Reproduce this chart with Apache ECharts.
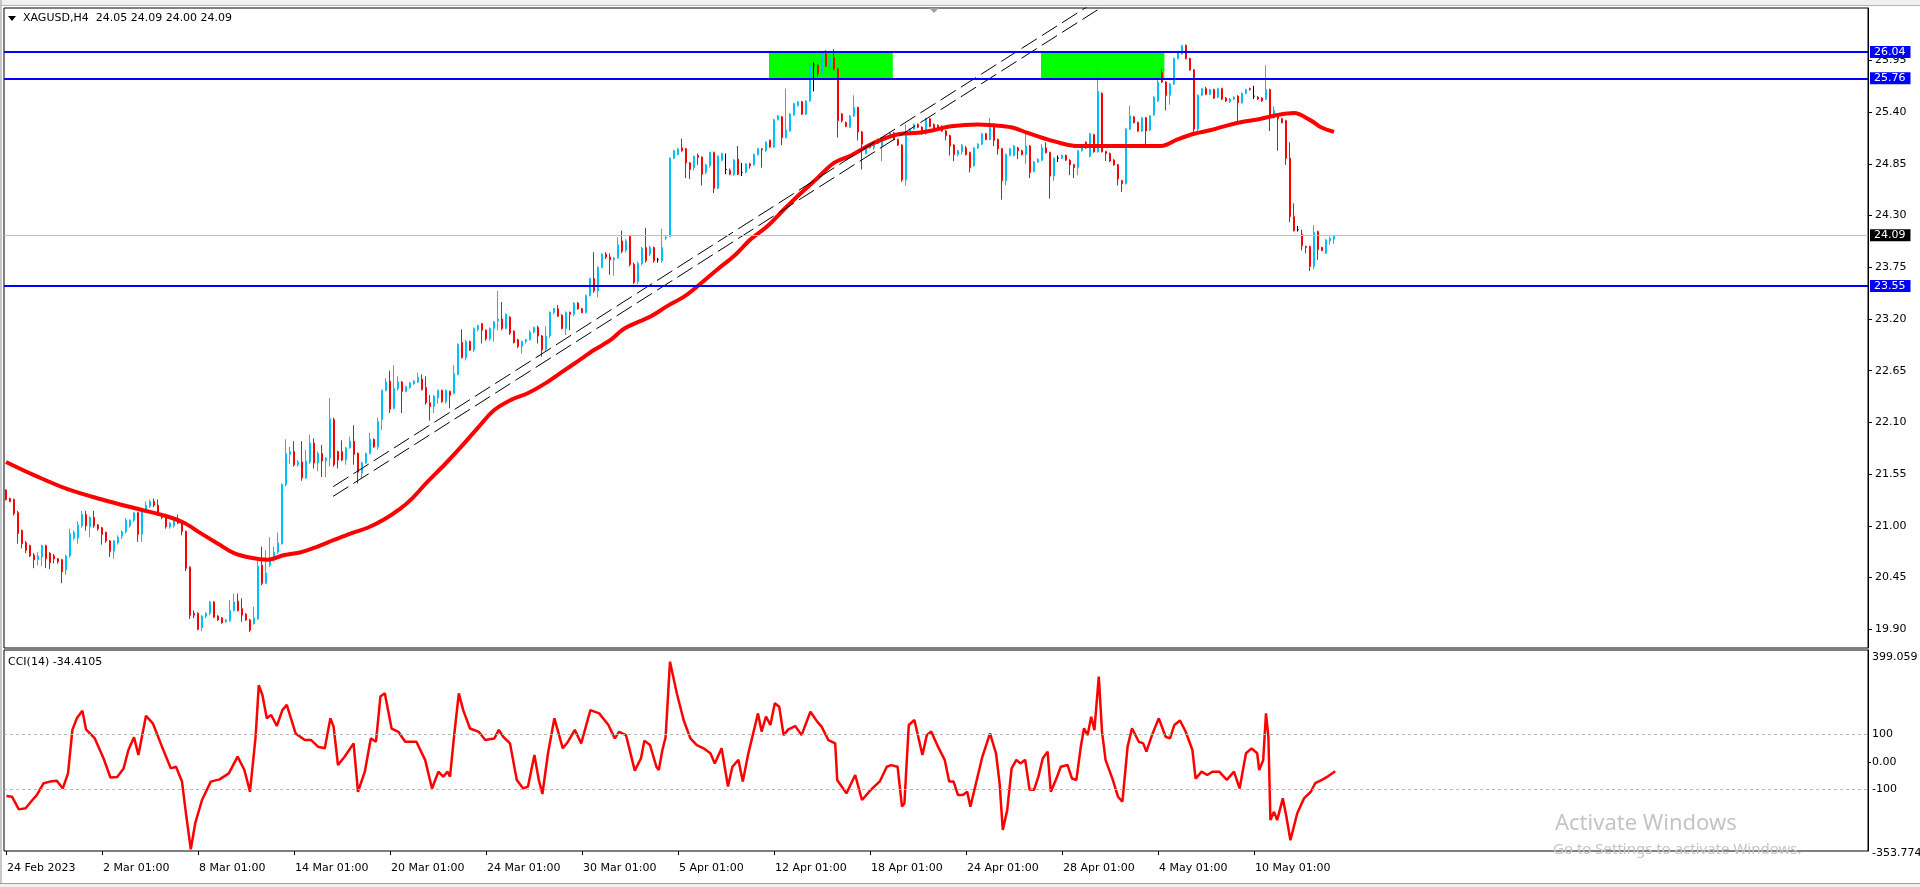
<!DOCTYPE html>
<html>
<head>
<meta charset="utf-8">
<script src="https://cdn.jsdelivr.net/npm/echarts@6.0.0/dist/echarts.min.js"></script>
<style>
html,body{margin:0;padding:0;background:#fff;overflow:hidden;}
#chart{width:1920px;height:887px;}
</style>
</head>
<body>
<div id="chart"></div>
<script>
// ---------- DATA ----------
const symbolTitle = 'XAGUSD,H4  24.05 24.09 24.00 24.09';
const cciTitle = 'CCI(14) -34.4105';

// H4 candles, bar 0 = 24 Feb 2023 01:00
const O = [
21.38,21.29,21.28,21.14,20.95,20.82,20.79,20.69,20.64,20.67,
20.79,20.71,20.68,20.65,20.64,20.53,20.68,20.87,20.87,21.00,
21.12,20.99,21.09,21.01,20.98,20.93,20.84,20.73,20.82,20.89,
20.94,21.00,21.06,21.14,20.91,21.17,21.21,21.26,21.22,21.13,
21.12,20.99,21.00,21.07,21.03,20.94,20.56,20.07,20.07,19.92,
20.04,20.07,20.19,20.04,20.02,19.98,19.99,20.10,20.20,20.12,
20.06,20.00,19.96,20.01,20.58,20.39,20.58,20.64,20.72,20.81,
21.44,21.76,21.79,21.65,21.68,21.51,21.68,21.88,21.67,21.77,
21.69,21.72,22.13,21.79,21.79,21.70,21.83,21.90,21.77,21.56,
21.67,21.77,21.92,21.84,22.13,22.44,22.54,22.25,22.46,22.53,
22.43,22.47,22.51,22.53,22.56,22.47,22.31,22.27,22.36,22.44,
22.32,22.43,22.41,22.61,22.95,22.79,22.96,22.87,23.09,23.15,
23.08,22.99,23.10,23.18,23.20,23.10,23.22,23.07,22.98,22.91,
22.96,22.98,23.06,23.11,23.02,22.88,23.02,23.27,23.31,23.24,
23.10,23.27,23.25,23.37,23.31,23.27,23.45,23.63,23.50,23.75,
23.89,23.86,23.83,23.85,24.03,23.93,24.08,23.78,23.60,23.79,
23.96,23.89,23.96,23.83,23.82,24.06,24.08,24.91,24.95,25.02,
25.01,24.86,24.81,24.94,24.92,24.76,24.83,24.97,24.59,24.89,
24.79,24.78,24.74,24.90,24.76,24.76,24.85,24.84,24.95,25.01,
24.99,25.10,25.03,25.32,25.35,25.13,25.20,25.37,25.47,25.51,
25.38,25.52,25.90,25.90,25.81,26.02,25.88,25.98,25.86,25.38,
25.29,25.24,25.36,25.45,25.19,24.96,25.02,25.02,25.11,25.04,
25.11,25.14,25.18,25.11,25.05,24.68,25.18,25.22,25.27,25.24,
25.17,25.33,25.27,25.26,25.25,25.20,25.15,25.05,24.95,24.98,
25.02,24.97,24.83,25.02,25.06,25.17,25.11,25.24,25.11,25.01,
24.67,24.94,24.94,25.02,24.99,24.95,25.04,24.77,24.87,24.89,
25.02,24.97,24.72,24.91,24.91,24.94,24.89,24.84,24.81,24.99,
25.08,24.93,25.16,24.98,25.60,24.98,24.96,24.89,24.84,24.67,
24.64,25.22,25.35,25.29,25.20,25.34,25.21,25.37,25.52,25.82,
25.72,25.58,25.70,25.97,26.02,26.11,25.97,25.85,25.22,25.58,
25.65,25.59,25.64,25.56,25.65,25.55,25.51,25.54,25.57,25.50,
25.60,25.65,25.57,25.56,25.55,25.54,25.64,25.34,25.36,25.33,
25.31,24.91,24.29,24.15,24.10,23.97,23.97,23.76,24.13,23.96,
23.90,24.03,24.05];
const H = [
21.39,21.30,21.29,21.16,20.96,20.84,20.80,20.71,20.72,20.80,
20.80,20.72,20.70,20.66,20.65,20.69,20.97,20.95,21.05,21.16,
21.16,21.10,21.16,21.02,20.99,20.94,20.85,20.85,20.90,20.95,
21.08,21.07,21.15,21.15,21.17,21.26,21.28,21.29,21.28,21.14,
21.13,21.04,21.07,21.12,21.04,20.95,20.57,20.10,20.08,20.05,
20.08,20.20,20.20,20.05,20.03,20.01,20.21,20.28,20.28,20.23,
20.07,20.01,20.14,20.63,20.78,20.74,20.88,20.78,20.93,21.45,
21.92,21.84,21.90,21.70,21.90,21.81,21.97,21.93,21.79,21.86,
21.73,22.36,22.15,21.80,21.91,21.84,21.95,22.07,21.78,21.68,
21.78,21.99,21.93,22.15,22.45,22.57,22.65,22.71,22.59,22.54,
22.49,22.53,22.55,22.63,22.61,22.59,22.39,22.39,22.45,22.45,
22.45,22.44,22.71,22.94,23.09,22.98,22.97,23.11,23.14,23.16,
23.09,23.11,23.18,23.50,23.38,23.26,23.23,23.08,22.99,22.97,
22.99,23.08,23.12,23.13,23.03,23.12,23.28,23.32,23.35,23.25,
23.28,23.28,23.38,23.38,23.32,23.46,23.64,23.91,23.76,23.90,
23.91,23.90,23.86,24.07,24.14,24.05,24.09,23.80,23.81,23.97,
24.17,23.98,23.97,23.85,24.16,24.08,24.92,25.00,25.02,25.12,
25.02,24.87,24.94,24.96,24.93,24.85,24.98,24.98,24.94,24.97,
24.96,24.80,24.90,25.04,24.86,24.86,24.86,24.96,25.02,25.02,
25.09,25.11,25.33,25.37,25.36,25.65,25.39,25.50,25.52,25.52,
25.53,25.93,25.93,25.91,26.03,26.06,25.99,26.07,25.87,25.39,
25.30,25.37,25.58,25.46,25.20,25.05,25.05,25.08,25.12,25.12,
25.15,25.19,25.19,25.12,25.06,25.27,25.23,25.28,25.28,25.25,
25.34,25.34,25.28,25.27,25.26,25.21,25.16,25.06,25.00,25.06,
25.04,24.98,25.03,25.07,25.18,25.18,25.34,25.25,25.12,25.02,
24.96,25.02,25.05,25.03,25.00,25.18,25.05,24.88,24.91,25.06,
25.08,24.98,24.92,24.94,24.95,24.95,24.90,24.85,25.00,25.03,
25.09,25.18,25.17,25.90,25.61,24.99,24.97,24.90,24.85,24.68,
25.23,25.47,25.36,25.30,25.35,25.35,25.37,25.57,25.82,25.86,
25.73,25.71,25.98,26.04,26.11,26.12,25.98,25.86,25.59,25.66,
25.67,25.65,25.65,25.66,25.66,25.56,25.55,25.57,25.58,25.61,
25.65,25.66,25.68,25.57,25.56,25.90,25.65,25.46,25.37,25.34,
25.32,25.08,24.43,24.19,24.15,23.98,23.98,24.20,24.14,23.97,
24.05,24.08,24.09];
const L = [
21.27,21.25,21.11,20.81,20.76,20.71,20.67,20.55,20.58,20.57,
20.55,20.54,20.60,20.60,20.39,20.48,20.66,20.85,20.81,20.98,
20.95,20.88,20.98,20.95,20.80,20.82,20.67,20.65,20.80,20.86,
20.92,20.98,21.04,20.83,20.83,21.15,21.19,21.20,21.11,21.07,
20.97,20.97,20.98,21.02,20.90,20.52,20.01,20.02,19.89,19.88,
20.02,20.05,20.02,19.99,19.96,19.97,19.98,20.09,20.09,19.98,
19.99,19.87,19.95,20.00,20.37,20.38,20.56,20.62,20.70,20.80,
21.42,21.66,21.63,21.63,21.48,21.50,21.66,21.61,21.58,21.52,
21.52,21.63,21.63,21.61,21.69,21.65,21.82,21.65,21.45,21.51,
21.66,21.76,21.83,21.81,22.02,22.43,22.20,22.24,22.44,22.20,
22.42,22.46,22.50,22.52,22.44,22.29,22.12,22.20,22.30,22.31,
22.30,22.25,22.40,22.60,22.78,22.76,22.86,22.85,23.07,22.94,
22.97,22.97,22.96,23.08,23.08,23.09,23.03,22.94,22.89,22.83,
22.94,22.97,23.05,22.94,22.80,22.86,23.00,23.25,23.22,23.09,
23.03,23.08,23.23,23.30,23.26,23.26,23.44,23.48,23.43,23.74,
23.84,23.67,23.66,23.84,23.90,23.91,23.76,23.57,23.57,23.77,
23.80,23.87,23.80,23.80,23.80,24.04,24.07,24.90,24.94,24.98,
24.70,24.69,24.78,24.84,24.62,24.74,24.81,24.54,24.58,24.88,
24.74,24.73,24.72,24.73,24.72,24.75,24.80,24.83,24.94,24.81,
24.98,25.02,25.02,25.31,25.05,25.12,25.19,25.36,25.46,25.37,
25.37,25.51,25.62,25.78,25.80,25.88,25.80,25.84,25.13,25.29,
25.24,25.23,25.35,25.10,24.79,24.95,25.01,25.00,25.06,24.88,
25.10,25.13,25.10,25.04,24.66,24.62,25.17,25.21,25.23,25.16,
25.16,25.24,25.21,25.20,25.19,25.10,24.94,24.88,24.93,24.95,
24.94,24.76,24.82,25.01,25.05,25.10,25.10,25.04,24.95,24.47,
24.62,24.93,24.93,24.90,24.94,24.85,24.70,24.76,24.86,24.88,
24.96,24.48,24.67,24.87,24.90,24.88,24.73,24.70,24.73,24.98,
25.01,24.92,24.97,24.97,24.97,24.88,24.87,24.83,24.62,24.55,
24.63,25.21,25.28,25.19,25.19,25.05,25.20,25.36,25.51,25.71,
25.42,25.48,25.69,25.96,26.01,25.96,25.84,25.19,25.18,25.57,
25.58,25.58,25.54,25.55,25.53,25.51,25.50,25.53,25.30,25.49,
25.59,25.63,25.54,25.53,25.51,25.53,25.20,25.33,24.99,25.28,
24.84,24.23,24.13,24.13,23.93,23.90,23.71,23.73,23.83,23.92,
23.89,23.99,24.00];
const C = [
21.28,21.26,21.13,20.92,20.81,20.74,20.68,20.64,20.68,20.79,
20.65,20.61,20.65,20.62,20.51,20.68,20.92,20.93,21.01,21.12,
21.00,21.09,21.00,20.97,20.91,20.84,20.73,20.84,20.88,20.94,
21.06,21.06,21.14,20.91,21.15,21.22,21.26,21.22,21.13,21.09,
20.99,21.03,21.06,21.03,20.94,20.55,20.05,20.05,19.90,20.04,
20.07,20.19,20.03,20.00,19.97,20.00,20.10,20.19,20.10,20.05,
20.00,19.89,20.02,20.57,20.39,20.50,20.64,20.72,20.82,21.44,
21.77,21.79,21.65,21.68,21.51,21.69,21.88,21.67,21.77,21.69,
21.72,22.14,21.65,21.70,21.70,21.83,21.90,21.76,21.57,21.67,
21.77,21.92,21.84,22.11,22.44,22.53,22.24,22.46,22.53,22.43,
22.48,22.52,22.54,22.58,22.45,22.31,22.27,22.38,22.44,22.32,
22.44,22.39,22.62,22.93,22.79,22.96,22.87,23.10,23.13,23.08,
22.99,23.10,23.17,23.20,23.10,23.25,23.05,22.95,22.91,22.96,
22.98,23.06,23.11,23.02,22.87,23.02,23.27,23.31,23.23,23.10,
23.27,23.25,23.37,23.31,23.27,23.45,23.63,23.50,23.75,23.89,
23.86,23.83,23.85,23.99,23.92,24.03,23.78,23.59,23.79,23.95,
23.82,23.96,23.82,23.83,23.96,24.07,24.91,24.99,25.01,24.99,
24.86,24.79,24.93,24.92,24.74,24.84,24.97,24.59,24.93,24.96,
24.79,24.74,24.89,24.74,24.76,24.85,24.83,24.95,25.01,25.00,
25.08,25.03,25.32,25.36,25.13,25.21,25.38,25.49,25.51,25.38,
25.52,25.90,25.90,25.81,26.02,25.89,25.98,25.86,25.31,25.31,
25.25,25.36,25.45,25.19,25.06,25.04,25.04,25.07,25.07,25.11,
25.14,25.18,25.11,25.05,24.68,25.18,25.22,25.27,25.24,25.17,
25.33,25.25,25.22,25.21,25.20,25.15,25.04,24.95,24.99,25.05,
24.95,24.81,25.02,25.06,25.17,25.11,25.24,25.10,25.01,24.67,
24.95,25.01,25.04,24.99,24.95,25.04,24.76,24.87,24.90,25.02,
24.97,24.72,24.91,24.91,24.94,24.89,24.84,24.81,24.99,25.02,
25.02,25.17,24.98,25.62,24.98,24.96,24.88,24.84,24.69,24.64,
25.22,25.36,25.29,25.20,25.34,25.20,25.36,25.56,25.72,25.72,
25.58,25.70,25.97,26.03,26.11,25.97,25.85,25.22,25.58,25.65,
25.59,25.64,25.55,25.65,25.54,25.52,25.54,25.56,25.50,25.60,
25.64,25.64,25.57,25.54,25.52,25.64,25.36,25.42,25.33,25.29,
24.91,24.29,24.14,24.15,23.98,23.96,23.76,24.12,23.94,23.93,
24.04,24.06,24.09];

// moving average: [bar, price]
const maPoints = [
[0,21.68],[7,21.54],[15.4,21.39],[24,21.28],[32,21.19],[40.4,21.10],[44.6,21.03],[48.75,20.92],[53,20.81],[57,20.71],
[61.25,20.66],[65.4,20.64],[69.6,20.69],[73.75,20.72],[77.9,20.78],[82,20.85],[86.25,20.92],[90.4,20.98],[94.6,21.07],[98.5,21.18],
[101.5,21.29],[105.4,21.47],[109.6,21.65],[113.75,21.84],[117.9,22.04],[122,22.23],[126.25,22.34],[130.4,22.41],[134.6,22.51],[138.75,22.63],
[142.9,22.75],[147,22.87],[151.25,22.98],[154.6,23.10],[161.25,23.23],[165.4,23.34],[169.6,23.44],[173.75,23.58],[177.9,23.73],[182,23.87],
[186.25,24.05],[190.4,24.19],[194.6,24.37],[198.75,24.54],[202.9,24.70],[207,24.86],[211.25,24.94],[215.4,25.04],[219.6,25.12],[223.75,25.17],
[227.9,25.18],[232,25.21],[236.25,25.25],[242.9,25.27],[247,25.26],[251.25,25.24],[255.4,25.18],[259.6,25.12],[263.75,25.07],[267.9,25.04],
[272,25.04],[276.25,25.04],[280.4,25.04],[284.6,25.04],[288.75,25.04],[292.9,25.11],[297,25.17],[301.25,25.21],[305.4,25.26],[309.6,25.30],
[313.75,25.33],[317.9,25.37],[322,25.39],[326.25,25.31],[328.75,25.24],[332,25.19]];

// CCI(14): [bar, value]
const cciPoints = [
[0.1,-124],[1.5,-127],[3.2,-173],[4.9,-169],[6.6,-139],[7.7,-121],[9.4,-78],[11,-72],[12.7,-69],[14.2,-97],[15.5,-42],[16.6,116],[17.7,158],[19.1,186],[20,118],[22.2,85],[24.4,12],[26.1,-57],[27.8,-55],[29.4,-24],
[30.6,43],[32,89],[33.1,25],[35,167],[36.7,140],[39,55],[41.2,-24],[42.5,-18],[44,-72],[45.1,-200],[46.2,-318],[47.3,-224],[49,-139],[51.2,-72],[53.4,-64],[55.7,-42],[57.9,19],[59.6,-30],[61,-109],[62.4,91],
[63.2,279],[64.1,243],[65.2,158],[66.3,170],[67.7,130],[69.1,188],[70.2,207],[72.4,103],[74.7,79],[76.3,79],[78,55],[79.7,49],[81.1,158],[81.9,128],[83,-12],[84.7,19],[86.9,67],[88,-109],[89.7,-36],[91.2,85],
[92.5,73],[93.6,237],[94.7,249],[96.4,121],[98.1,109],[99.8,73],[102.6,73],[104.8,6],[106.5,-97],[108.1,-36],[109.3,-54],[110.4,-36],[111,-54],[112,91],[113.2,249],[114.3,188],[116,121],[118.2,109],[119.8,79],[122.1,85],
[123.2,116],[124.3,91],[126,67],[127.7,-66],[129.3,-97],[130.5,-90],[132.1,25],[133.2,-66],[134.1,-117],[135.5,31],[137.1,158],[139.2,49],[140.5,73],[142.2,116],[143.8,67],[146.1,188],[148.3,176],[150.6,134],[152.2,85],[153.3,109],
[155,97],[157.2,-32],[158.75,13],[159.6,77],[161,61],[162.6,-18],[163.2,-30],[164.1,43],[164.9,89],[166,364],[167.7,249],[169.4,152],[171.1,85],[172.7,61],[174.4,49],[176.1,31],[177.2,-6],[178.9,49],[180.5,-90],[181.6,-18],
[183.1,7],[184.2,-72],[185.5,25],[188,176],[188.9,110],[190,164],[191.1,134],[192.2,213],[193.3,200],[194.4,97],[195.6,118],[197.3,130],[198.9,97],[201.1,182],[202.8,146],[203.9,128],[205.6,79],[207.3,67],[207.8,-66],[210.1,-115],
[212.3,-48],[214,-139],[216.2,-102],[218.5,-70],[220.2,-18],[221.3,-12],[222.9,-18],[224,-163],[224.6,-151],[225.7,134],[227.1,152],[229.1,25],[230.2,97],[231.3,110],[233,55],[234.7,6],[235.8,-72],[236.9,-72],[238,-121],[239.2,-121],
[240.3,-109],[241.1,-163],[242.5,-78],[244.1,19],[246,103],[247.5,31],[248.4,-78],[249.2,-248],[250.3,-176],[251.4,-24],[252.6,7],[253.6,-6],[254.8,7],[255.9,-102],[257,-102],[258.1,-54],[259.2,13],[260.4,37],[261.2,-109],[262.6,-61],
[263.7,-18],[265.4,-12],[266.5,-61],[267.6,-66],[268.7,55],[269.5,122],[270.4,97],[271.3,164],[272.1,115],[273.2,310],[274,110],[274.9,6],[276.6,-61],[278,-127],[279.1,-145],[280.4,55],[281.5,122],[283.2,73],[284.3,67],[285.1,37],
[286.5,97],[288.2,158],[289.9,91],[291,85],[292.1,134],[293.5,150],[294.9,110],[296.6,43],[297.4,-61],[298.9,-36],[300.3,-48],[301.6,-36],[303.3,-36],[305.2,-66],[307,-36],[308.4,-97],[310,31],[311.4,49],[312.8,31],[313.3,-30],
[314.3,6],[315,176],[315.6,91],[316.1,-212],[317,-182],[317.8,-212],[319.2,-133],[320.1,-200],[321.1,-285],[322.8,-188],[324.5,-133],[326.2,-109],[327.3,-78],[329,-66],[330.6,-52],[332.3,-34]];

// horizontal levels and objects
const blueLevels = [26.04, 25.76, 23.55];
const lastPrice = 24.09;
const zoneTop = 26.04, zoneBottom = 25.76;
const zoneBars = [[190.75, 221.7], [258.75, 289.6]];
const channelUpper = [[81.8, 21.417], [280, 26.784]];
const channelLower = [[81.8, 21.314], [280, 26.681]];
const cciLevels = [100, -100];

// axis labels
const priceTickLabels = ['19.90','20.45','21.00','21.55','22.10','22.65','23.20','23.75','24.30','24.85','25.40','25.95'];
const tickBars = [0,24,48,72,96,120,144,168,192,216,240,264,288,312];
const tickLabels = ['24 Feb 2023','2 Mar 01:00','8 Mar 01:00','14 Mar 01:00','20 Mar 01:00','24 Mar 01:00','30 Mar 01:00',
  '5 Apr 01:00','12 Apr 01:00','18 Apr 01:00','24 Apr 01:00','28 Apr 01:00','4 May 01:00','10 May 01:00'];
const cciTickLabels = ['100','0.00','-100'];
const cciTickValues = [100, 0, -100];
const cciMaxLabel = '399.059', cciMinLabel = '-353.774';

// ---------- CHART ----------
const N = 466; // slots across the chart width (empty space after the last bar)
const cats = Array.from({length: N}, (_, i) => String(i));
const candleData = O.map((o, i) => [o, C[i], L[i], H[i]]);
const FONT = 'DejaVu Sans';
const priceTicks = priceTickLabels.map(Number);

const chart = echarts.init(document.getElementById('chart'), null, {renderer: 'canvas'});

const levelLines = blueLevels.map(v => ({
  yAxis: v,
  lineStyle: {color: '#0000ff', width: 2, type: 'solid'},
  label: {show: true, position: 'end', distance: 2, formatter: v.toFixed(2), color: '#ffffff',
    backgroundColor: '#0000ff', padding: [1, 5, 0, 4], fontSize: 11, fontFamily: FONT}
}));
levelLines.unshift({
  yAxis: lastPrice,
  lineStyle: {color: '#c0c0c0', width: 1, type: 'solid'},
  label: {show: true, position: 'end', distance: 2, formatter: lastPrice.toFixed(2), color: '#ffffff',
    backgroundColor: '#000000', padding: [1, 5, 0, 4], fontSize: 11, fontFamily: FONT}
});

const option = {
  animation: false,
  backgroundColor: '#ffffff',
  textStyle: {fontFamily: FONT},
  grid: [
    {left: 4, top: 8, width: 1864, height: 640, show: true, borderColor: '#000', borderWidth: 1},
    {left: 4, top: 650, width: 1864, height: 201, show: true, borderColor: '#000', borderWidth: 1}
  ],
  xAxis: [
    {type: 'category', gridIndex: 0, data: cats, boundaryGap: true, show: false},
    {type: 'value', gridIndex: 0, min: -0.5, max: N - 0.5, show: false},
    {type: 'value', gridIndex: 1, min: -0.5, max: N - 0.5, position: 'bottom',
      axisLine: {show: false, onZero: false}, splitLine: {show: false},
      axisTick: {show: true, customValues: tickBars, length: 4, lineStyle: {color: '#000'}},
      axisLabel: {show: true, customValues: tickBars, align: 'left', margin: 12, color: '#000', fontSize: 11,
        fontFamily: FONT, padding: [0, 0, 0, 1],
        formatter: v => tickLabels[tickBars.indexOf(Math.round(v))] || ''}
    }
  ],
  yAxis: [
    {type: 'value', gridIndex: 0, position: 'right', min: 19.701, max: 26.508, scale: true,
      axisLine: {show: true, onZero: false, lineStyle: {color: '#000'}}, splitLine: {show: false},
      axisTick: {show: true, customValues: priceTicks, length: 4, lineStyle: {color: '#000'}},
      axisLabel: {show: true, customValues: priceTicks, margin: 7, color: '#000', fontSize: 11, fontFamily: FONT,
        formatter: v => v.toFixed(2)}
    },
    {type: 'value', gridIndex: 1, position: 'right', min: -324.4, max: 406.5, scale: true,
      axisLine: {show: true, onZero: false, lineStyle: {color: '#000'}}, splitLine: {show: false},
      axisTick: {show: true, customValues: [0], length: 3, lineStyle: {color: '#000'}},
      axisLabel: {show: true, customValues: cciTickValues, margin: 4, color: '#000', fontSize: 11, fontFamily: FONT,
        formatter: v => cciTickLabels[cciTickValues.indexOf(Math.round(v))] || ''}
    }
  ],
  series: [
    {
      type: 'line', xAxisIndex: 1, yAxisIndex: 0, data: [], z: 1, silent: true,
      markArea: {silent: true, itemStyle: {color: '#00ff00', opacity: 1},
        data: zoneBars.map(z => [{xAxis: z[0], yAxis: zoneTop}, {xAxis: z[1], yAxis: zoneBottom}])}
    },
    {
      type: 'candlestick', xAxisIndex: 0, yAxisIndex: 0, data: candleData, barWidth: 2, z: 2, silent: true,
      itemStyle: {color: '#00bfff', color0: '#ff0000', borderColor: '#00bfff', borderColor0: '#ff0000',
        borderColorDoji: '#000000', borderWidth: 1}
    },
    {
      type: 'line', xAxisIndex: 1, yAxisIndex: 0, data: maPoints, smooth: 0.35, symbol: 'none', z: 3, silent: true,
      lineStyle: {color: '#ff0000', width: 4}
    },
    {
      type: 'line', xAxisIndex: 1, yAxisIndex: 0, data: channelUpper, symbol: 'none', z: 4, silent: true,
      lineStyle: {color: '#000000', width: 1, type: [18, 6]}
    },
    {
      type: 'line', xAxisIndex: 1, yAxisIndex: 0, data: channelLower, symbol: 'none', z: 4, silent: true,
      lineStyle: {color: '#000000', width: 1, type: [18, 6]}
    },
    {
      type: 'line', xAxisIndex: 1, yAxisIndex: 0, data: [], z: 5, silent: true,
      markLine: {silent: true, symbol: ['none', 'none'], animation: false, data: levelLines}
    },
    {
      type: 'line', xAxisIndex: 2, yAxisIndex: 1, data: cciPoints, symbol: 'none', z: 3, silent: true,
      lineStyle: {color: '#ff0000', width: 2.5},
      markLine: {silent: true, symbol: ['none', 'none'], label: {show: false},
        lineStyle: {color: '#b8b8b8', width: 1, type: [3, 3]},
        data: cciLevels.map(v => ({yAxis: v}))}
    }
  ],
  graphic: [
    {type: 'rect', shape: {x: 0, y: 0, width: 1920, height: 6}, style: {fill: '#f0f0f0'}, z: -10},
    {type: 'line', shape: {x1: 0, y1: 5.5, x2: 1920, y2: 5.5}, style: {stroke: '#b4b4b4', lineWidth: 1}, z: -9},
    {type: 'rect', shape: {x: 0, y: 0, width: 2, height: 887}, style: {fill: '#c8c8c8'}, z: -10},
    {type: 'rect', shape: {x: 0, y: 883, width: 1920, height: 4}, style: {fill: '#f0f0f0'}, z: -10},
    {type: 'line', shape: {x1: 0, y1: 883.5, x2: 1920, y2: 883.5}, style: {stroke: '#a0a0a0', lineWidth: 1}, z: -9},
    {type: 'polygon', shape: {points: [[929, 8], [939, 8], [934, 13]]}, style: {fill: '#a0a0a0'}, z: 50},
    {type: 'polygon', shape: {points: [[8, 16], [16, 16], [12, 21]]}, style: {fill: '#000'}, z: 50},
    {type: 'text', x: 23, y: 18, style: {text: symbolTitle, fill: '#000', font: '11px "DejaVu Sans"', verticalAlign: 'middle', align: 'left'}, z: 50},
    {type: 'text', x: 8, y: 662, style: {text: cciTitle, fill: '#000', font: '11px "DejaVu Sans"', verticalAlign: 'middle', align: 'left'}, z: 50},
    {type: 'text', x: 1872, y: 657, style: {text: cciMaxLabel, fill: '#000', font: '11px "DejaVu Sans"', verticalAlign: 'middle', align: 'left'}, z: 50},
    {type: 'text', x: 1872, y: 853, style: {text: cciMinLabel, fill: '#000', font: '11px "DejaVu Sans"', verticalAlign: 'middle', align: 'left'}, z: 50},
    {type: 'text', x: 1555, y: 824, style: {text: 'Activate Windows', fill: '#c4c4c4', font: '22px "Noto Sans"', verticalAlign: 'middle', align: 'left'}, z: 60},
    {type: 'text', x: 1553, y: 850, style: {text: 'Go to Settings to activate Windows.', fill: '#c4c4c4', font: '15px "Noto Sans"', verticalAlign: 'middle', align: 'left'}, z: 60}
  ]
};
chart.setOption(option);
</script>
</body>
</html>
